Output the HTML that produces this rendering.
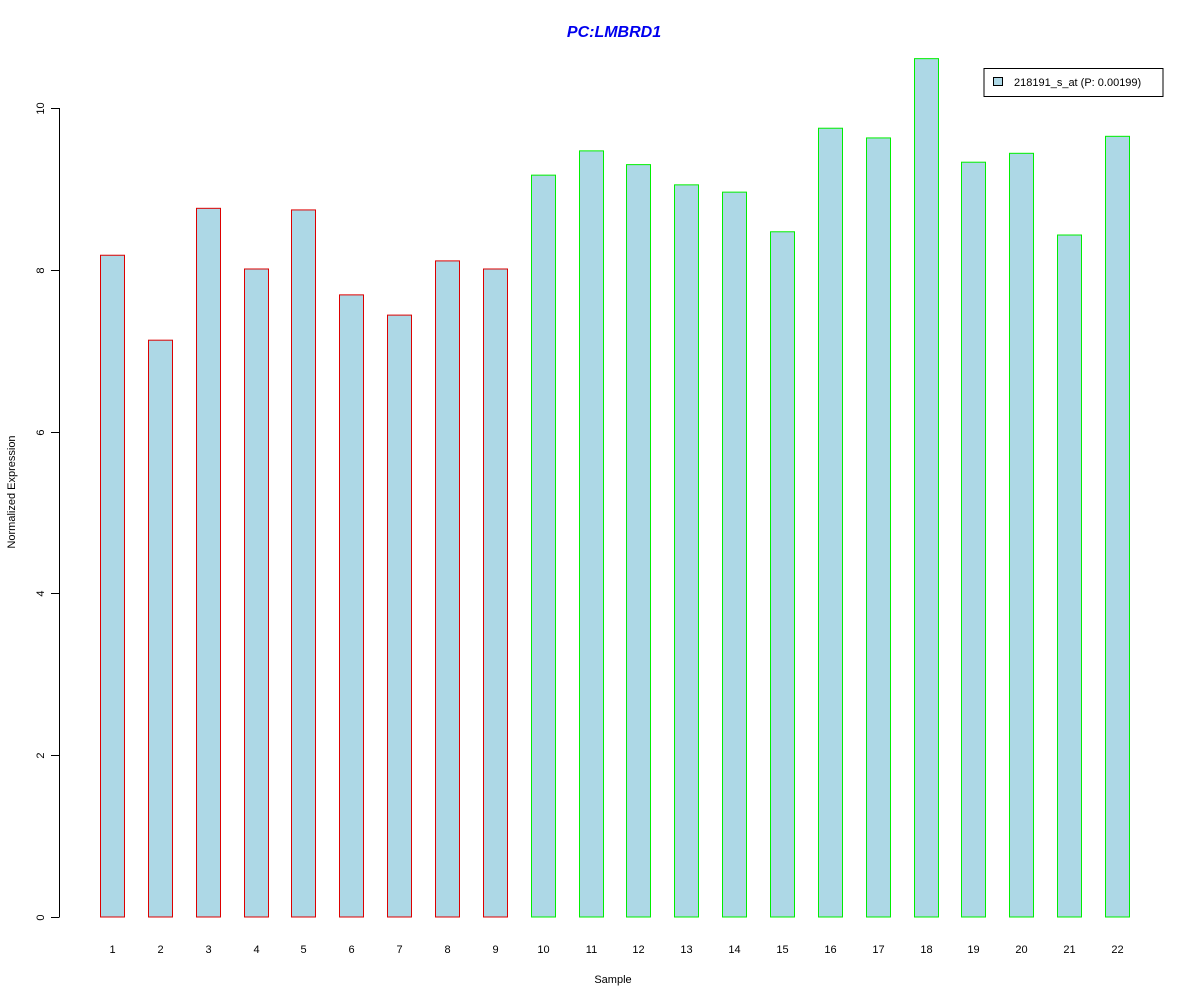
<!DOCTYPE html>
<html><head><meta charset="utf-8"><style>
html,body{margin:0;padding:0;background:#fff;}
svg{display:block;font-family:"Liberation Sans",sans-serif;}
</style></head><body>
<svg id="chart" width="1200" height="1000" viewBox="0 0 1200 1000">
<rect x="0" y="0" width="1200" height="1000" fill="#fff"/>
<text x="614" y="37" text-anchor="middle" font-size="16" font-weight="bold" font-style="italic" fill="#0000ee">PC:LMBRD1</text>
<g id="yaxis"></g>
<g id="bars"></g>
<g id="xlabels"></g>
<text x="613" y="983" text-anchor="middle" font-size="11">Sample</text>
<text transform="translate(15,492) rotate(-90)" text-anchor="middle" font-size="11">Normalized Expression</text>
<g>
<rect x="984" y="68.5" width="179" height="28" fill="#fff" stroke="#000" stroke-width="1"/>
<rect x="993.5" y="77.5" width="9" height="8" fill="#add8e6" stroke="#000" stroke-width="1"/>
<text x="1014" y="86" font-size="11">218191_s_at (P: 0.00199)</text>
</g>
</svg>
<script>
const categories = ["1","2","3","4","5","6","7","8","9","10","11","12","13","14","15","16","17","18","19","20","21","22"];
const values = [8.18,7.13,8.76,8.01,8.74,7.69,7.44,8.11,8.01,9.17,9.47,9.30,9.05,8.96,8.47,9.75,9.63,10.61,9.33,9.44,8.43,9.65];
const groups = ["a","a","a","a","a","a","a","a","a","b","b","b","b","b","b","b","b","b","b","b","b","b"];
const yTicks = [0,2,4,6,8,10];
const NS = "http://www.w3.org/2000/svg";
function yScale(v){ return 917 - v * 80.9; }
function xScale(i){ return 100 + i * 47.857; }
const barW = 24;
const yaxis = document.getElementById('yaxis');
const barsG = document.getElementById('bars');
const xl = document.getElementById('xlabels');
function mk(tag, attrs, parent){ const e = document.createElementNS(NS, tag); for (const k in attrs) e.setAttribute(k, attrs[k]); parent.appendChild(e); return e; }
const axisLine = mk('line', {x1:59.5, x2:59.5, y1:yScale(yTicks[0]), y2:yScale(yTicks[yTicks.length-1]), stroke:'#000'}, yaxis);


yTicks.forEach(t => {
  const y = Math.round(yScale(t)) + 0.5;
  const tk = mk('line', {x1:51, x2:59.5, y1:y, y2:y, stroke:'#000'}, yaxis);
  
  
  const lb = mk('text', {transform:`translate(44,${y}) rotate(-90)`, 'text-anchor':'middle', 'font-size':11}, yaxis);
  lb.textContent = String(t);
  
  
});
values.forEach((v, i) => {
  const x = Math.round(xScale(i)) + 0.5;
  const top = yScale(v);
  const r = mk('rect', {x:x, y:top, width:barW, height:yScale(0) - top, fill:'#add8e6', stroke: groups[i] === 'a' ? '#dd0000' : '#00ee00', 'stroke-width':1}, barsG);
  
  
  const t = mk('text', {x:x + barW/2, y:953, 'text-anchor':'middle', 'font-size':11}, xl);
  t.textContent = categories[i];
  
  
});
</script>
</body></html>
